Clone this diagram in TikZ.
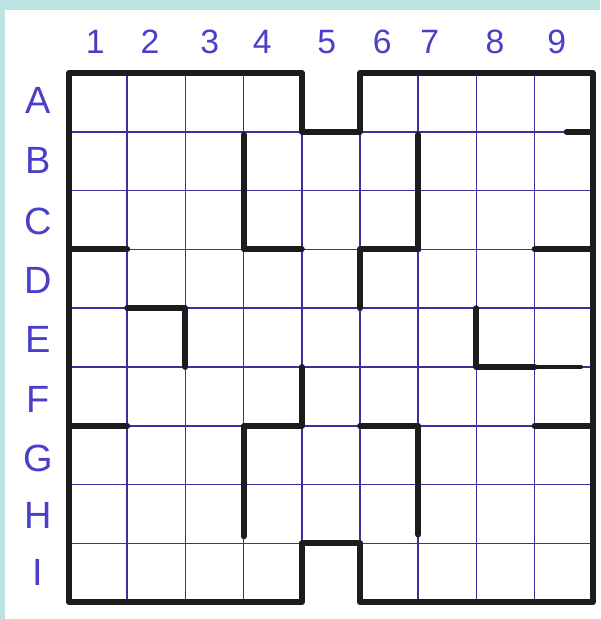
\documentclass[tikz,border=0pt]{standalone}
\usepackage{fontspec}
\setsansfont{Liberation Sans}
\usepackage{xcolor}
\definecolor{ink}{HTML}{4A3FC8}
\definecolor{gridblue}{HTML}{3C2F9E}
\definecolor{paperframe}{HTML}{BFE3E0}
\definecolor{pen}{HTML}{1C1C1C}

\tikzset{
  gridline/.style={gridblue, line width=1.2pt},
  wall/.style={pen, line width=4.2pt, line cap=round, line join=round},
  thinwall/.style={pen, line width=2.6pt, line cap=round},
  collabel/.style={ink, font=\sffamily\fontsize{24}{24}\selectfont},
  rowlabel/.style={ink, font=\sffamily\fontsize{27}{27}\selectfont}
}

\begin{document}
\begin{tikzpicture}[x=1.455cm, y=-1.47cm]
  % page, with the teal frame on top and left
  \useasboundingbox (-1.186,-1.241) rectangle (9.124,9.286);
  \fill[white] (-1.186,-1.241) rectangle (9.124,9.286);
  \fill[paperframe] (-1.186,-1.241) rectangle (9.124,-1.071);
  \fill[paperframe] (-1.186,-1.241) rectangle (-1.1,9.286);

  % squared paper
  \foreach \k in {1,...,8} {
    \draw[gridline] (0,\k) -- (9,\k);
    \draw[gridline] (\k,0) -- (\k,9);
  }

  % column numbers and row letters
  \foreach \n/\x in {1/0.45, 2/1.39, 3/2.42, 4/3.32, 5/4.43, 6/5.38, 7/6.20, 8/7.32, 9/8.38}
    \node[collabel] (col\n) at (\x,-0.53) {\n};
  \foreach \r/\y in {A/0.46, B/1.48, C/2.53, D/3.52, E/4.54, F/5.56, G/6.55, H/7.52, I/8.50}
    \node[rowlabel] (row\r) at (-0.53,\y) {\r};

  % outer wall with the two notches in column 5
  \draw[wall] (4,1) -- (4,0) -- (0,0) -- (0,9) -- (4,9) -- (4,8) -- (5,8)
    -- (5,9) -- (9,9) -- (9,0) -- (5,0) -- (5,1) -- cycle;

  % inner walls
  \draw[wall] (3,1.05) -- (3,3) -- (4,3);
  \draw[wall] (0,3) -- (1,3);
  \draw[wall] (1,4) -- (2,4) -- (2,5);
  \draw[wall] (0,6) -- (1,6);
  \draw[wall] (3,7.88) -- (3,6) -- (4,6);
  \draw[wall] (4,5) -- (4,6);
  \draw[wall] (6,1.05) -- (6,3);
  \draw[wall] (5,4) -- (5,3) -- (6,3);
  \draw[wall] (8,3) -- (9,3);
  \draw[wall] (8,6) -- (9,6);
  \draw[wall] (7,4) -- (7,5) -- (8,5);
  \draw[thinwall] (8,5) -- (8.8,5);
  \draw[wall] (5,6) -- (6,6) -- (6,7.85);
  \draw[wall] (8.55,1) -- (9,1);
\end{tikzpicture}
\end{document}
